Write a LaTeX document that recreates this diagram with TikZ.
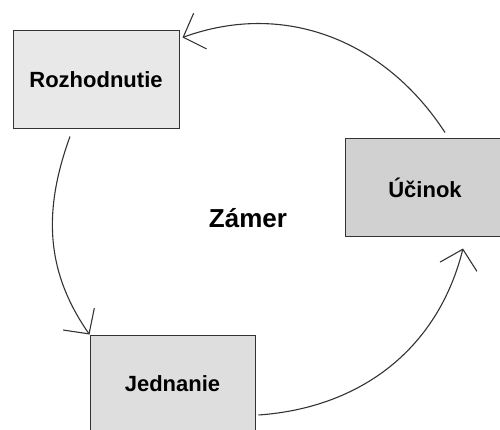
\documentclass[tikz,border=0pt]{standalone}
\usepackage{fontspec}
\setmainfont{Liberation Sans}
\usetikzlibrary{arrows.meta}

\begin{document}
\begin{tikzpicture}[
  x=1pt, y=1pt,
  box/.style={draw=black!80, line width=1pt, minimum width=166pt,
    minimum height=98pt, inner sep=0pt,
    font=\bfseries\fontsize{22}{26}\selectfont},
  flow/.style={draw=black!80, line width=1.1pt,
    -{Straight Barb[length=18pt,width=38pt]}}
]
  \useasboundingbox (0,0) rectangle (500,-430);
  \fill[white] (0,0) rectangle (500,-430);
  \node[box, fill=black!9] (rozh) at (96,-80) {Rozhodnutie};
  \node[box, fill=black!18, minimum width=160pt] (ucinok) at (425,-188) {Účinok};
  \node[box, fill=black!13, minimum width=165pt] (jednanie) at (172.5,-384) {Jednanie};
  \node[font=\bfseries\fontsize{26}{30}\selectfont] (zamer) at (248,-218) {Zámer};
  \draw[flow] ([shift={(20,6)}]ucinok.north) to[out=123,in=20]
    ([shift={(3,-7)}]rozh.north east);
  \draw[flow] ([shift={(-26,-7)}]rozh.south) to[out=250,in=125]
    (jednanie.north west);
  \draw[flow] ([shift={(3,-31)}]jednanie.east) to[out=4,in=256]
    ([shift={(38,-11)}]ucinok.south);
\end{tikzpicture}
\end{document}
